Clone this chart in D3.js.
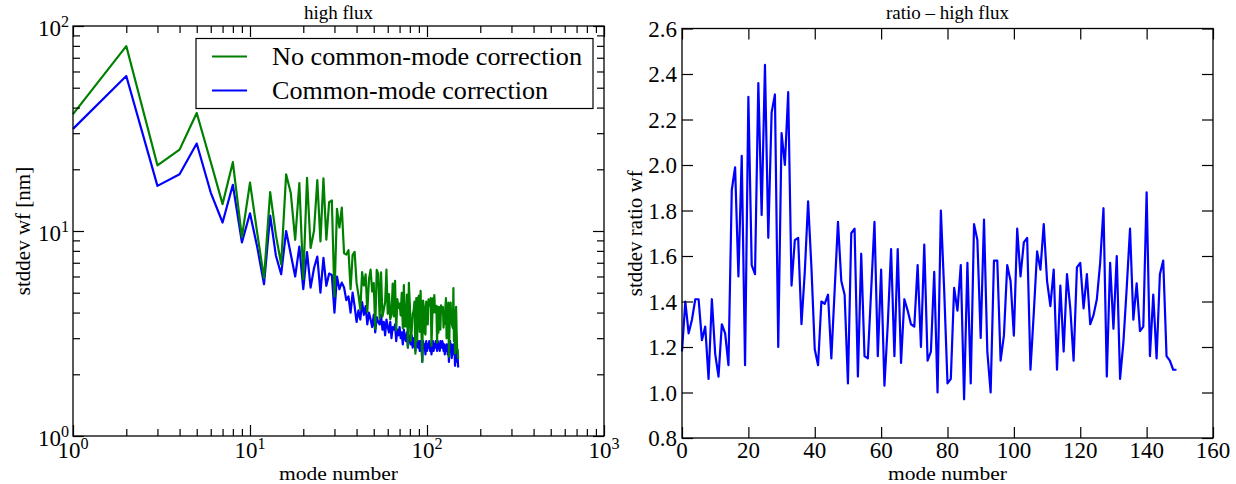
<!DOCTYPE html>
<html><head><meta charset="utf-8">
<script src="https://cdn.jsdelivr.net/npm/d3@7"></script>
<style>
body{margin:0;background:#fff}
svg{display:block}
text{font-family:"Liberation Serif","Times New Roman",serif;fill:#000}
</style>
</head><body>
<svg id="chart" width="1236" height="484" font-family="Liberation Serif, serif"></svg>
<script>
// ---------------- data ----------------
const modeNumbers = d3.range(1, 151);      // left plot x (mode number 1..150)
const ratioIndex = d3.range(0, 150);       // right plot x (0..149)

const blueValues = [
  31.5, 57, 16.6, 18.9, 26.7, 15.4, 11.0, 16.8, 8.8, 12.2,
  8.3, 5.5, 11.9, 7.6, 6.15, 10.0, 7.7, 6.0, 8.4, 5.2,
  7.9, 5.3, 6.6, 7.5, 5.0, 7.4, 5.4, 6.2, 6.1, 4.0,
  6.0, 5.2, 5.6, 5.3, 4.6, 4.8, 4.0, 5.0, 4.3, 3.6,
  4.1, 3.7, 4.5, 3.9, 4.3, 3.5, 4.0, 3.7, 3.4, 3.9,
  3.2, 3.8, 3.6, 3.5, 3.9, 3.3, 3.6, 3.1, 3.7, 3.4,
  3.2, 3.6, 3.0, 3.4, 3.3, 3.5, 2.9, 3.3, 3.1, 3.4,
  3.0, 3.2, 2.8, 3.3, 3.0, 2.9, 3.2, 2.7, 3.1, 3.0,
  2.8, 3.1, 2.7, 3.0, 2.9, 2.6, 3.0, 2.8, 2.7, 2.9,
  2.6, 2.9, 2.8, 2.3, 2.9, 2.7, 2.8, 2.5, 2.9, 2.6,
  2.8, 2.7, 2.9, 2.6, 2.8, 2.5, 2.7, 2.9, 2.6, 2.8,
  2.7, 2.9, 2.8, 2.6, 2.9, 2.7, 2.8, 2.6, 2.9, 2.8,
  2.7, 2.9, 2.8, 2.6, 2.8, 2.5, 2.7, 2.6, 2.8, 2.7,
  2.5, 2.8, 2.3, 2.7, 2.9, 2.6, 2.8, 2.4, 2.7, 2.6,
  2.8, 2.5, 2.7, 2.2, 2.6, 2.7, 2.8, 2.3, 2.4, 2.16
];

const ratioValues = [
  1.18, 1.40, 1.26, 1.32, 1.41, 1.41, 1.23, 1.29, 1.06, 1.41,
  1.17, 1.07, 1.30, 1.26, 1.12, 1.89, 1.99, 1.51, 2.04, 1.12,
  2.30, 1.56, 1.52, 2.36, 1.78, 2.44, 1.68, 2.23, 2.31, 1.20,
  2.14, 2.00, 2.32, 1.47, 1.67, 1.68, 1.30, 1.53, 1.84, 1.55,
  1.19, 1.12, 1.40, 1.39, 1.43, 1.15, 1.45, 1.75, 1.49, 1.43,
  1.04, 1.70, 1.72, 1.07, 1.61, 1.16, 1.15, 1.45, 1.75, 1.16,
  1.54, 1.03, 1.30, 1.63, 1.16, 1.63, 1.13, 1.41, 1.36, 1.30,
  1.29, 1.56, 1.20, 1.65, 1.14, 1.18, 1.53, 1.00, 1.80, 1.45,
  1.04, 1.06, 1.46, 1.36, 1.56, 0.97, 1.57, 1.04, 1.74, 1.67,
  1.24, 1.76, 1.18, 1.00, 1.58, 1.58, 1.14, 1.25, 1.56, 1.49,
  1.25, 1.72, 1.51, 1.66, 1.68, 1.10, 1.35, 1.62, 1.54, 1.74,
  1.49, 1.38, 1.54, 1.10, 1.47, 1.18, 1.52, 1.37, 1.14, 1.55,
  1.57, 1.37, 1.52, 1.30, 1.34, 1.41, 1.57, 1.81, 1.07, 1.57,
  1.28, 1.60, 1.06, 1.22, 1.46, 1.72, 1.32, 1.48, 1.27, 1.29,
  1.88, 1.16, 1.43, 1.15, 1.52, 1.58, 1.16, 1.14, 1.10, 1.10
];

// the uncorrected std-dev is the corrected one times the plotted ratio
const greenValues = blueValues.map((b, i) => b * ratioValues[i]);

const logXMajor = [1, 10, 100, 1000];
const logYMajor = [1, 10, 100];
const logExponentsX = ["0", "1", "2", "3"];
const logExponentsY = ["0", "1", "2"];
const ratioXTicks = [0, 20, 40, 60, 80, 100, 120, 140, 160];
const ratioYTicks = [0.8, 1.0, 1.2, 1.4, 1.6, 1.8, 2.0, 2.2, 2.4, 2.6];
const legendLabels = ["No common-mode correction", "Common-mode correction"];
const seriesColors = ["#008000", "#0000ff"];
const titles = ["high flux", "ratio \u2013 high flux"];
const xLabels = ["mode number", "mode number"];
const yLabels = ["stddev wf [nm]", "stddev ratio wf"];

// ---------------- layout ----------------
const svg = d3.select("#chart");
const L = {x0: 73, x1: 604, y0: 26, y1: 436};
const R = {x0: 682, x1: 1213, y0: 28.5, y1: 438};
const MAJ = 11, MIN = 7;
const tickFont = 23, labelFont = 21, xLabelFont = 19, titleFont = 19;

const xL = d3.scaleLog().domain([1, 1000]).range([L.x0, L.x1]);
const yL = d3.scaleLog().domain([1, 100]).range([L.y1, L.y0]);
const xR = d3.scaleLinear().domain([0, 160]).range([R.x0, R.x1]);
const yR = d3.scaleLinear().domain([0.8, 2.6]).range([R.y1, R.y0]);

function minorLog(domain) {
  const out = [];
  for (let d = domain[0]; d < domain[1]; d *= 10)
    for (let k = 2; k <= 9; k++) out.push(d * k);
  return out;
}

function drawTicks(box, xs, ys, xMaj, xMin, yMaj, yMin) {
  const g = svg.append("g");
  const mk = (axisFn, scale, vals, size, tx, ty) => {
    g.append("g").attr("transform", `translate(${tx},${ty})`)
      .call(axisFn(scale).tickValues(vals).tickSize(size).tickFormat(""))
      .call(s => s.select(".domain").remove())
      .call(s => s.selectAll("line").attr("stroke", "#000").attr("stroke-width", 1.2));
  };
  mk(d3.axisBottom, xs, xMaj, -MAJ, 0, box.y1);
  mk(d3.axisTop, xs, xMaj, -MAJ, 0, box.y0);
  mk(d3.axisLeft, ys, yMaj, -MAJ, box.x0, 0);
  mk(d3.axisRight, ys, yMaj, -MAJ, box.x1, 0);
  if (xMin.length) {
    mk(d3.axisBottom, xs, xMin, -MIN, 0, box.y1);
    mk(d3.axisTop, xs, xMin, -MIN, 0, box.y0);
  }
  if (yMin.length) {
    mk(d3.axisLeft, ys, yMin, -MIN, box.x0, 0);
    mk(d3.axisRight, ys, yMin, -MIN, box.x1, 0);
  }
  svg.append("rect").attr("x", box.x0).attr("y", box.y0)
    .attr("width", box.x1 - box.x0).attr("height", box.y1 - box.y0)
    .attr("fill", "none").attr("stroke", "#000").attr("stroke-width", 1.3);
}

// ---------------- left plot ----------------
const lineL = d3.line().x(d => xL(d[0])).y(d => yL(d[1]));
const greenPts = modeNumbers.map((m, i) => [m, greenValues[i]]);
const bluePts = modeNumbers.map((m, i) => [m, blueValues[i]]);
svg.append("path").attr("d", lineL(bluePts)).attr("fill", "none")
  .attr("stroke", seriesColors[1]).attr("stroke-width", 2.2).attr("stroke-linejoin", "round");
svg.append("path").attr("d", lineL(greenPts)).attr("fill", "none")
  .attr("stroke", seriesColors[0]).attr("stroke-width", 2.2).attr("stroke-linejoin", "round");

drawTicks(L, xL, yL, logXMajor, minorLog([1, 1000]), logYMajor, minorLog([1, 100]));

// log tick labels
const xLab = svg.append("g");
logXMajor.forEach((v, i) => {
  const t = xLab.append("text").attr("x", xL(v)).attr("y", 458)
    .attr("text-anchor", "middle").attr("font-size", tickFont);
  t.append("tspan").text("10");
  t.append("tspan").attr("font-size", tickFont * 0.7).attr("dy", -9).text(logExponentsX[i]);
});
logYMajor.forEach((v, i) => {
  const t = xLab.append("text").attr("x", L.x0 - 4).attr("y", yL(v) + 10)
    .attr("text-anchor", "end").attr("font-size", tickFont);
  t.append("tspan").text("10");
  t.append("tspan").attr("font-size", tickFont * 0.7).attr("dy", -9).text(logExponentsY[i]);
});

// legend
const lg = svg.append("g");
lg.append("rect").attr("x", 196).attr("y", 38.5).attr("width", 397).attr("height", 70)
  .attr("fill", "#fff").attr("stroke", "#000").attr("stroke-width", 1.2);
const legendWidths = [310, 276];
legendLabels.forEach((lab, i) => {
  const y = 56.5 + i * 34;
  lg.append("line").attr("x1", 212).attr("x2", 247).attr("y1", y).attr("y2", y)
    .attr("stroke", seriesColors[i]).attr("stroke-width", 2.2);
  lg.append("text").attr("x", 272).attr("y", y + 8).attr("font-size", 25)
    .attr("textLength", legendWidths[i]).attr("lengthAdjust", "spacingAndGlyphs").text(lab);
});

// ---------------- right plot ----------------
const lineR = d3.line().x(d => xR(d[0])).y(d => yR(d[1]));
svg.append("path").attr("d", lineR(ratioIndex.map((x, i) => [x, ratioValues[i]])))
  .attr("fill", "none").attr("stroke", seriesColors[1]).attr("stroke-width", 2.2)
  .attr("stroke-linejoin", "round");

drawTicks(R, xR, yR, ratioXTicks, [], ratioYTicks, []);

const rl = svg.append("g");
ratioXTicks.forEach(v => {
  rl.append("text").attr("x", xR(v)).attr("y", 458).attr("text-anchor", "middle")
    .attr("font-size", tickFont).text(d3.format("d")(v));
});
ratioYTicks.forEach(v => {
  rl.append("text").attr("x", R.x0 - 5).attr("y", yR(v) + 8).attr("text-anchor", "end")
    .attr("font-size", tickFont).text(d3.format(".1f")(v));
});

// ---------------- titles & labels ----------------
[L, R].forEach((b, i) => {
  const cx = (b.x0 + b.x1) / 2;
  svg.append("text").attr("x", cx).attr("y", 19).attr("text-anchor", "middle")
    .attr("font-size", titleFont).text(titles[i]);
  svg.append("text").attr("x", cx).attr("y", 479.5).attr("text-anchor", "middle")
    .attr("font-size", xLabelFont).attr("textLength", 119)
    .attr("lengthAdjust", "spacingAndGlyphs").text(xLabels[i]);
});
svg.append("text").attr("transform", `translate(30,${(L.y0 + L.y1) / 2}) rotate(-90)`)
  .attr("text-anchor", "middle").attr("font-size", labelFont).text(yLabels[0]);
svg.append("text").attr("transform", `translate(642,${(R.y0 + R.y1) / 2}) rotate(-90)`)
  .attr("text-anchor", "middle").attr("font-size", labelFont).text(yLabels[1]);
</script>
</body></html>
